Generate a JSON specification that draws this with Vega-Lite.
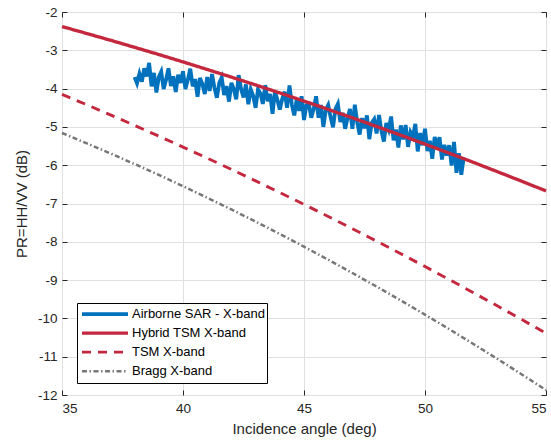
{
  "$schema": "https://vega.github.io/schema/vega-lite/v6.json",
  "width": 484,
  "height": 383,
  "autosize": {"type": "none"},
  "padding": {"left": 62, "top": 12, "right": 5, "bottom": 49},
  "background": "white",
  "config": {
    "font": "Liberation Sans",
    "view": {"stroke": "#262626", "strokeWidth": 1},
    "axis": {
      "labelFont": "Liberation Sans", "labelFontSize": 13.5, "labelColor": "#262626",
      "titleFont": "Liberation Sans", "titleFontSize": 15, "titleFontWeight": "normal", "titleColor": "#262626",
      "domain": false, "tickColor": "#262626", "tickSize": -5, "gridColor": "#e0e0e0", "gridWidth": 1
    },
    "legend": {
      "labelFont": "Liberation Sans", "labelFontSize": 13, "labelColor": "#000000",
      "symbolType": "stroke", "symbolSize": 2116, "clipHeight": 18.3, "rowPadding": 0,
      "padding": 2, "labelOffset": 2, "symbolOffset": 1,
      "fillColor": "white", "strokeColor": "#000000", "cornerRadius": 0,
      "orient": "none", "legendX": 15, "legendY": 291, "title": null
    }
  },
  "resolve": {"axis": {"x": "independent", "y": "independent"}},
  "data": {"values": [
    {"model":"Airborne SAR - X-band","angle":38.0,"pr":-3.70},{"model":"Airborne SAR - X-band","angle":38.1,"pr":-3.86},{"model":"Airborne SAR - X-band","angle":38.2,"pr":-3.61},{"model":"Airborne SAR - X-band","angle":38.3,"pr":-3.82},{"model":"Airborne SAR - X-band","angle":38.4,"pr":-3.47},{"model":"Airborne SAR - X-band","angle":38.5,"pr":-3.68},{"model":"Airborne SAR - X-band","angle":38.6,"pr":-3.33},{"model":"Airborne SAR - X-band","angle":38.7,"pr":-3.94},{"model":"Airborne SAR - X-band","angle":38.8,"pr":-3.59},{"model":"Airborne SAR - X-band","angle":38.9,"pr":-4.10},
    {"model":"Airborne SAR - X-band","angle":39.0,"pr":-3.70},{"model":"Airborne SAR - X-band","angle":39.1,"pr":-3.56},{"model":"Airborne SAR - X-band","angle":39.2,"pr":-4.01},{"model":"Airborne SAR - X-band","angle":39.3,"pr":-3.77},{"model":"Airborne SAR - X-band","angle":39.4,"pr":-3.47},{"model":"Airborne SAR - X-band","angle":39.5,"pr":-3.93},{"model":"Airborne SAR - X-band","angle":39.6,"pr":-3.68},{"model":"Airborne SAR - X-band","angle":39.7,"pr":-4.09},{"model":"Airborne SAR - X-band","angle":39.8,"pr":-3.64},{"model":"Airborne SAR - X-band","angle":39.9,"pr":-3.85},
    {"model":"Airborne SAR - X-band","angle":40.0,"pr":-3.55},{"model":"Airborne SAR - X-band","angle":40.1,"pr":-4.01},{"model":"Airborne SAR - X-band","angle":40.2,"pr":-3.77},{"model":"Airborne SAR - X-band","angle":40.3,"pr":-3.48},{"model":"Airborne SAR - X-band","angle":40.4,"pr":-3.94},{"model":"Airborne SAR - X-band","angle":40.5,"pr":-3.75},{"model":"Airborne SAR - X-band","angle":40.6,"pr":-4.21},{"model":"Airborne SAR - X-band","angle":40.7,"pr":-3.72},{"model":"Airborne SAR - X-band","angle":40.8,"pr":-3.88},{"model":"Airborne SAR - X-band","angle":40.9,"pr":-4.14},
    {"model":"Airborne SAR - X-band","angle":41.0,"pr":-3.70},{"model":"Airborne SAR - X-band","angle":41.1,"pr":-4.06},{"model":"Airborne SAR - X-band","angle":41.2,"pr":-3.62},{"model":"Airborne SAR - X-band","angle":41.3,"pr":-3.98},{"model":"Airborne SAR - X-band","angle":41.4,"pr":-4.24},{"model":"Airborne SAR - X-band","angle":41.5,"pr":-3.85},{"model":"Airborne SAR - X-band","angle":41.6,"pr":-3.71},{"model":"Airborne SAR - X-band","angle":41.7,"pr":-4.17},{"model":"Airborne SAR - X-band","angle":41.8,"pr":-3.93},{"model":"Airborne SAR - X-band","angle":41.9,"pr":-4.34},
    {"model":"Airborne SAR - X-band","angle":42.0,"pr":-3.85},{"model":"Airborne SAR - X-band","angle":42.1,"pr":-4.02},{"model":"Airborne SAR - X-band","angle":42.2,"pr":-4.28},{"model":"Airborne SAR - X-band","angle":42.3,"pr":-3.65},{"model":"Airborne SAR - X-band","angle":42.4,"pr":-4.01},{"model":"Airborne SAR - X-band","angle":42.5,"pr":-4.23},{"model":"Airborne SAR - X-band","angle":42.6,"pr":-3.89},{"model":"Airborne SAR - X-band","angle":42.7,"pr":-4.41},{"model":"Airborne SAR - X-band","angle":42.8,"pr":-4.02},{"model":"Airborne SAR - X-band","angle":42.9,"pr":-4.19},
    {"model":"Airborne SAR - X-band","angle":43.0,"pr":-4.50},{"model":"Airborne SAR - X-band","angle":43.1,"pr":-4.02},{"model":"Airborne SAR - X-band","angle":43.2,"pr":-4.13},{"model":"Airborne SAR - X-band","angle":43.3,"pr":-4.40},{"model":"Airborne SAR - X-band","angle":43.4,"pr":-3.91},{"model":"Airborne SAR - X-band","angle":43.5,"pr":-4.33},{"model":"Airborne SAR - X-band","angle":43.6,"pr":-4.14},{"model":"Airborne SAR - X-band","angle":43.7,"pr":-4.66},{"model":"Airborne SAR - X-band","angle":43.8,"pr":-4.07},{"model":"Airborne SAR - X-band","angle":43.9,"pr":-4.29},
    {"model":"Airborne SAR - X-band","angle":44.0,"pr":-4.55},{"model":"Airborne SAR - X-band","angle":44.1,"pr":-4.27},{"model":"Airborne SAR - X-band","angle":44.2,"pr":-4.08},{"model":"Airborne SAR - X-band","angle":44.3,"pr":-4.50},{"model":"Airborne SAR - X-band","angle":44.4,"pr":-3.92},{"model":"Airborne SAR - X-band","angle":44.5,"pr":-4.43},{"model":"Airborne SAR - X-band","angle":44.6,"pr":-4.70},{"model":"Airborne SAR - X-band","angle":44.7,"pr":-4.27},{"model":"Airborne SAR - X-band","angle":44.8,"pr":-4.58},{"model":"Airborne SAR - X-band","angle":44.9,"pr":-4.20},
    {"model":"Airborne SAR - X-band","angle":45.0,"pr":-4.82},{"model":"Airborne SAR - X-band","angle":45.1,"pr":-4.43},{"model":"Airborne SAR - X-band","angle":45.2,"pr":-4.40},{"model":"Airborne SAR - X-band","angle":45.3,"pr":-4.76},{"model":"Airborne SAR - X-band","angle":45.4,"pr":-4.53},{"model":"Airborne SAR - X-band","angle":45.5,"pr":-4.20},{"model":"Airborne SAR - X-band","angle":45.6,"pr":-4.76},{"model":"Airborne SAR - X-band","angle":45.7,"pr":-4.43},{"model":"Airborne SAR - X-band","angle":45.8,"pr":-5.00},{"model":"Airborne SAR - X-band","angle":45.9,"pr":-4.56},
    {"model":"Airborne SAR - X-band","angle":46.0,"pr":-4.43},{"model":"Airborne SAR - X-band","angle":46.1,"pr":-4.75},{"model":"Airborne SAR - X-band","angle":46.2,"pr":-5.01},{"model":"Airborne SAR - X-band","angle":46.3,"pr":-4.53},{"model":"Airborne SAR - X-band","angle":46.4,"pr":-4.40},{"model":"Airborne SAR - X-band","angle":46.5,"pr":-4.87},{"model":"Airborne SAR - X-band","angle":46.6,"pr":-4.63},{"model":"Airborne SAR - X-band","angle":46.7,"pr":-5.05},{"model":"Airborne SAR - X-band","angle":46.8,"pr":-4.77},{"model":"Airborne SAR - X-band","angle":46.9,"pr":-4.53},
    {"model":"Airborne SAR - X-band","angle":47.0,"pr":-5.05},{"model":"Airborne SAR - X-band","angle":47.1,"pr":-4.42},{"model":"Airborne SAR - X-band","angle":47.2,"pr":-4.88},{"model":"Airborne SAR - X-band","angle":47.3,"pr":-5.20},{"model":"Airborne SAR - X-band","angle":47.4,"pr":-4.77},{"model":"Airborne SAR - X-band","angle":47.5,"pr":-5.04},{"model":"Airborne SAR - X-band","angle":47.6,"pr":-4.70},{"model":"Airborne SAR - X-band","angle":47.7,"pr":-5.32},{"model":"Airborne SAR - X-band","angle":47.8,"pr":-4.89},{"model":"Airborne SAR - X-band","angle":47.9,"pr":-4.80},
    {"model":"Airborne SAR - X-band","angle":48.0,"pr":-5.17},{"model":"Airborne SAR - X-band","angle":48.1,"pr":-4.69},{"model":"Airborne SAR - X-band","angle":48.2,"pr":-5.11},{"model":"Airborne SAR - X-band","angle":48.3,"pr":-5.38},{"model":"Airborne SAR - X-band","angle":48.4,"pr":-4.90},{"model":"Airborne SAR - X-band","angle":48.5,"pr":-5.07},{"model":"Airborne SAR - X-band","angle":48.6,"pr":-4.73},{"model":"Airborne SAR - X-band","angle":48.7,"pr":-5.35},{"model":"Airborne SAR - X-band","angle":48.8,"pr":-5.07},{"model":"Airborne SAR - X-band","angle":48.9,"pr":-5.54},
    {"model":"Airborne SAR - X-band","angle":49.0,"pr":-4.96},{"model":"Airborne SAR - X-band","angle":49.1,"pr":-5.33},{"model":"Airborne SAR - X-band","angle":49.2,"pr":-4.95},{"model":"Airborne SAR - X-band","angle":49.3,"pr":-5.52},{"model":"Airborne SAR - X-band","angle":49.4,"pr":-5.14},{"model":"Airborne SAR - X-band","angle":49.5,"pr":-5.26},{"model":"Airborne SAR - X-band","angle":49.6,"pr":-4.92},{"model":"Airborne SAR - X-band","angle":49.7,"pr":-5.64},{"model":"Airborne SAR - X-band","angle":49.8,"pr":-5.16},{"model":"Airborne SAR - X-band","angle":49.9,"pr":-5.48},
    {"model":"Airborne SAR - X-band","angle":50.0,"pr":-5.05},{"model":"Airborne SAR - X-band","angle":50.1,"pr":-5.63},{"model":"Airborne SAR - X-band","angle":50.2,"pr":-5.36},{"model":"Airborne SAR - X-band","angle":50.3,"pr":-5.83},{"model":"Airborne SAR - X-band","angle":50.4,"pr":-5.26},{"model":"Airborne SAR - X-band","angle":50.5,"pr":-5.54},{"model":"Airborne SAR - X-band","angle":50.6,"pr":-5.27},{"model":"Airborne SAR - X-band","angle":50.7,"pr":-5.85},{"model":"Airborne SAR - X-band","angle":50.8,"pr":-5.47},{"model":"Airborne SAR - X-band","angle":50.9,"pr":-5.75},
    {"model":"Airborne SAR - X-band","angle":51.0,"pr":-5.48},{"model":"Airborne SAR - X-band","angle":51.1,"pr":-6.01},{"model":"Airborne SAR - X-band","angle":51.2,"pr":-5.39},{"model":"Airborne SAR - X-band","angle":51.3,"pr":-6.20},{"model":"Airborne SAR - X-band","angle":51.4,"pr":-5.69},{"model":"Airborne SAR - X-band","angle":51.5,"pr":-6.25},{"model":"Airborne SAR - X-band","angle":51.6,"pr":-5.80},
    {"model":"Hybrid TSM X-band","angle":35,"pr":-2.380},{"model":"Hybrid TSM X-band","angle":36,"pr":-2.557},{"model":"Hybrid TSM X-band","angle":37,"pr":-2.737},{"model":"Hybrid TSM X-band","angle":38,"pr":-2.922},{"model":"Hybrid TSM X-band","angle":39,"pr":-3.110},{"model":"Hybrid TSM X-band","angle":40,"pr":-3.303},{"model":"Hybrid TSM X-band","angle":41,"pr":-3.500},{"model":"Hybrid TSM X-band","angle":42,"pr":-3.700},{"model":"Hybrid TSM X-band","angle":43,"pr":-3.905},{"model":"Hybrid TSM X-band","angle":44,"pr":-4.113},{"model":"Hybrid TSM X-band","angle":45,"pr":-4.326},{"model":"Hybrid TSM X-band","angle":46,"pr":-4.543},{"model":"Hybrid TSM X-band","angle":47,"pr":-4.763},{"model":"Hybrid TSM X-band","angle":48,"pr":-4.988},{"model":"Hybrid TSM X-band","angle":49,"pr":-5.216},{"model":"Hybrid TSM X-band","angle":50,"pr":-5.449},{"model":"Hybrid TSM X-band","angle":51,"pr":-5.686},{"model":"Hybrid TSM X-band","angle":52,"pr":-5.926},{"model":"Hybrid TSM X-band","angle":53,"pr":-6.171},{"model":"Hybrid TSM X-band","angle":54,"pr":-6.419},{"model":"Hybrid TSM X-band","angle":55,"pr":-6.672},
    {"model":"TSM X-band","angle":35,"pr":-4.150},{"model":"TSM X-band","angle":36,"pr":-4.415},{"model":"TSM X-band","angle":37,"pr":-4.685},{"model":"TSM X-band","angle":38,"pr":-4.961},{"model":"TSM X-band","angle":39,"pr":-5.241},{"model":"TSM X-band","angle":40,"pr":-5.526},{"model":"TSM X-band","angle":41,"pr":-5.815},{"model":"TSM X-band","angle":42,"pr":-6.110},{"model":"TSM X-band","angle":43,"pr":-6.410},{"model":"TSM X-band","angle":44,"pr":-6.714},{"model":"TSM X-band","angle":45,"pr":-7.024},{"model":"TSM X-band","angle":46,"pr":-7.338},{"model":"TSM X-band","angle":47,"pr":-7.658},{"model":"TSM X-band","angle":48,"pr":-7.982},{"model":"TSM X-band","angle":49,"pr":-8.311},{"model":"TSM X-band","angle":50,"pr":-8.646},{"model":"TSM X-band","angle":51,"pr":-8.985},{"model":"TSM X-band","angle":52,"pr":-9.329},{"model":"TSM X-band","angle":53,"pr":-9.677},{"model":"TSM X-band","angle":54,"pr":-10.031},{"model":"TSM X-band","angle":55,"pr":-10.390},
    {"model":"Bragg X-band","angle":35,"pr":-5.160},{"model":"Bragg X-band","angle":36,"pr":-5.422},{"model":"Bragg X-band","angle":37,"pr":-5.692},{"model":"Bragg X-band","angle":38,"pr":-5.969},{"model":"Bragg X-band","angle":39,"pr":-6.254},{"model":"Bragg X-band","angle":40,"pr":-6.547},{"model":"Bragg X-band","angle":41,"pr":-6.848},{"model":"Bragg X-band","angle":42,"pr":-7.156},{"model":"Bragg X-band","angle":43,"pr":-7.472},{"model":"Bragg X-band","angle":44,"pr":-7.796},{"model":"Bragg X-band","angle":45,"pr":-8.128},{"model":"Bragg X-band","angle":46,"pr":-8.467},{"model":"Bragg X-band","angle":47,"pr":-8.815},{"model":"Bragg X-band","angle":48,"pr":-9.170},{"model":"Bragg X-band","angle":49,"pr":-9.532},{"model":"Bragg X-band","angle":50,"pr":-9.903},{"model":"Bragg X-band","angle":51,"pr":-10.281},{"model":"Bragg X-band","angle":52,"pr":-10.667},{"model":"Bragg X-band","angle":53,"pr":-11.061},{"model":"Bragg X-band","angle":54,"pr":-11.463},{"model":"Bragg X-band","angle":55,"pr":-11.872}
  ]},
  "encoding": {
    "color": {"field": "model", "type": "nominal",
      "scale": {"domain": ["Airborne SAR - X-band", "Hybrid TSM X-band", "TSM X-band", "Bragg X-band"],
                "range": ["#0072BD", "#C4283E", "#C4283E", "#777777"]}},
    "strokeDash": {"field": "model", "type": "nominal",
      "scale": {"domain": ["Airborne SAR - X-band", "Hybrid TSM X-band", "TSM X-band", "Bragg X-band"],
                "range": [[1, 0], [1, 0], [9, 7], [5, 2.5, 1.5, 2.5]]}},
    "strokeWidth": {"field": "model", "type": "nominal",
      "scale": {"domain": ["Airborne SAR - X-band", "Hybrid TSM X-band", "TSM X-band", "Bragg X-band"],
                "range": [3.8, 2.5, 2.5, 2]}}
  },
  "layer": [
    {"transform": [{"filter": "datum.model === 'Airborne SAR - X-band'"}],
     "mark": {"type": "line", "strokeJoin": "miter"},
     "encoding": {
       "x": {"field": "angle", "type": "quantitative",
         "scale": {"domain": [35, 55], "nice": false, "zero": false},
         "axis": {"values": [35, 40, 45, 50, 55], "title": "Incidence angle (deg)", "labelExpr": "toString(datum.value)", "labelPadding": 11, "titlePadding": 7, "grid": true}},
       "y": {"field": "pr", "type": "quantitative",
         "scale": {"domain": [-12, -2], "nice": false, "zero": false},
         "axis": {"values": [-12, -11, -10, -9, -8, -7, -6, -5, -4, -3, -2], "title": "PR=HH/VV (dB)", "labelExpr": "toString(datum.value)", "labelPadding": 10, "titlePadding": 8, "grid": true}}
     }},
    {"transform": [{"filter": "datum.model !== 'Airborne SAR - X-band'"}],
     "mark": {"type": "line"},
     "encoding": {
       "x": {"field": "angle", "type": "quantitative",
         "axis": {"orient": "top", "values": [35, 40, 45, 50, 55], "labels": false, "title": null, "grid": false}},
       "y": {"field": "pr", "type": "quantitative",
         "axis": {"orient": "right", "values": [-12, -11, -10, -9, -8, -7, -6, -5, -4, -3, -2], "labels": false, "title": null, "grid": false}}
     }}
  ]
}
